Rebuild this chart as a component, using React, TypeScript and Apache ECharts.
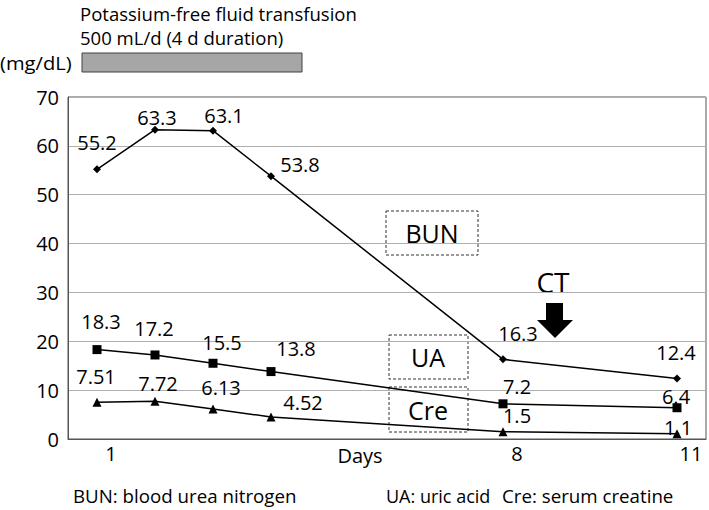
import React, { useEffect, useRef } from "react";
import * as echarts from "echarts";

const days = [1, 2, 3, 4, 8, 11];
const bun = [55.2, 63.3, 63.1, 53.8, 16.3, 12.4];
const ua = [18.3, 17.2, 15.5, 13.8, 7.2, 6.4];
const cre = [7.51, 7.72, 6.13, 4.52, 1.5, 1.1];
const xTickDays = [1, 8, 11];
const xAxisTitle = "Days";
const yTicks = [0, 10, 20, 30, 40, 50, 60, 70];

// label offsets (px) relative to each point
const bunOffsets = [[0, -27], [2, -12], [11, -15], [29, -12], [15, -26], [-1, -26]];
const uaOffsets = [[4, -28], [-1, -26], [9, -21], [25, -23], [14, -17], [-1, -11]];
const creOffsets = [[-1, -26], [3, -18], [8, -22], [32, -14], [14, -16], [1, -6]];

const FONT = "'Open Sans', Lato, sans-serif";
const LBL = 20;

function mk(name: string, vals: number[], offs: number[][], symbol: string, size: number) {
  return {
    name,
    type: "line",
    symbol,
    symbolSize: size,
    lineStyle: { color: "#000", width: 1.5 },
    itemStyle: { color: "#000" },
    data: vals.map((v, i) => ({
      value: [days[i], v],
      label: { offset: offs[i] },
    })),
    label: {
      show: true,
      position: "inside",
      fontFamily: FONT,
      fontSize: LBL,
      color: "#000",
      formatter: (p: any) => String(p.value[1]),
    },
    z: 3,
  };
}

function txt(text: string, x: number, y: number, size: number, opts: any = {}) {
  return {
    type: "text",
    x,
    y,
    scaleX: opts.scaleX ?? 1,
    style: {
      text,
      font: `${size}px ${FONT}`,
      fill: "#000",
      align: opts.align ?? "left",
      verticalAlign: "middle",
    },
  };
}

export default function App() {
  const ref = useRef<HTMLDivElement>(null);
  useEffect(() => {
    const chart = echarts.init(ref.current!, null, { renderer: "svg" });
    chart.setOption({
      animation: false,
      backgroundColor: "#fff",
      grid: {
        left: 68,
        top: 97,
        right: 3,
        bottom: 71,
        show: true,
        borderColor: "#555",
        borderWidth: 1,
        backgroundColor: "transparent",
      },
      xAxis: {
        type: "value",
        min: 0.5,
        max: 11.5,
        axisLine: { show: true, lineStyle: { color: "#555", width: 1 } },
        axisTick: { show: false },
        splitLine: { show: false },
        axisLabel: {
          customValues: xTickDays,
          fontFamily: FONT,
          fontSize: LBL,
          color: "#000",
          margin: 4,
          padding: [0, 0, 0, 28],
        },
      },
      yAxis: {
        type: "value",
        min: 0,
        max: 70,
        interval: 10,
        axisLine: { show: true, lineStyle: { color: "#555", width: 1 } },
        axisTick: { show: false },
        splitLine: { show: true, lineStyle: { color: "#b0b0b0", width: 1 } },
        axisLabel: {
          fontFamily: FONT,
          fontSize: LBL,
          color: "#000",
          margin: 9,
          formatter: (v: number) => (yTicks.includes(v) ? String(v) : ""),
        },
      },
      series: [
        mk("BUN", bun, bunOffsets, "diamond", 8),
        mk("UA", ua, uaOffsets, "rect", 9),
        mk("Cre", cre, creOffsets, "triangle", 9),
      ],
      graphic: [
        txt(xAxisTitle, 360, 455, LBL, { align: "center" }),
        txt("Potassium-free fluid transfusion", 80, 14, 18, { scaleX: 1.03 }),
        txt("500 mL/d (4 d duration)", 80, 38, 18, { scaleX: 1.03 }),
        txt("(mg/dL)", 0, 63, 18, { scaleX: 1.12 }),
        { type: "rect", shape: { x: 82, y: 53, width: 220, height: 19 }, style: { fill: "#a6a6a6", stroke: "#404040", lineWidth: 1 } },
        { type: "rect", shape: { x: 386, y: 211, width: 92, height: 44 }, style: { fill: "none", stroke: "#333", lineWidth: 1, lineDash: [3, 2] } },
        txt("BUN", 432, 233, 25, { align: "center" }),
        { type: "rect", shape: { x: 389, y: 335, width: 79, height: 44 }, style: { fill: "none", stroke: "#333", lineWidth: 1, lineDash: [3, 2] } },
        txt("UA", 428, 357, 25, { align: "center" }),
        { type: "rect", shape: { x: 389, y: 387, width: 79, height: 45 }, style: { fill: "none", stroke: "#333", lineWidth: 1, lineDash: [3, 2] } },
        txt("Cre", 428, 410, 25, { align: "center" }),
        txt("CT", 553, 282, 28, { align: "center" }),
        {
          type: "polygon",
          shape: { points: [[546, 303], [563, 303], [563, 320], [573, 320], [555, 338], [537, 320], [546, 320]] },
          style: { fill: "#000" },
        },
        txt("BUN: blood urea nitrogen", 73, 496, 18, { scaleX: 1.04 }),
        txt("UA: uric acid", 386, 496, 18),
        txt("Cre: serum creatine", 502, 496, 18, { scaleX: 1.04 }),
      ],
    });
    return () => chart.dispose();
  }, []);
  return <div ref={ref} style={{ position: "fixed", left: 0, top: 0, width: 709, height: 510 }} />;
}
